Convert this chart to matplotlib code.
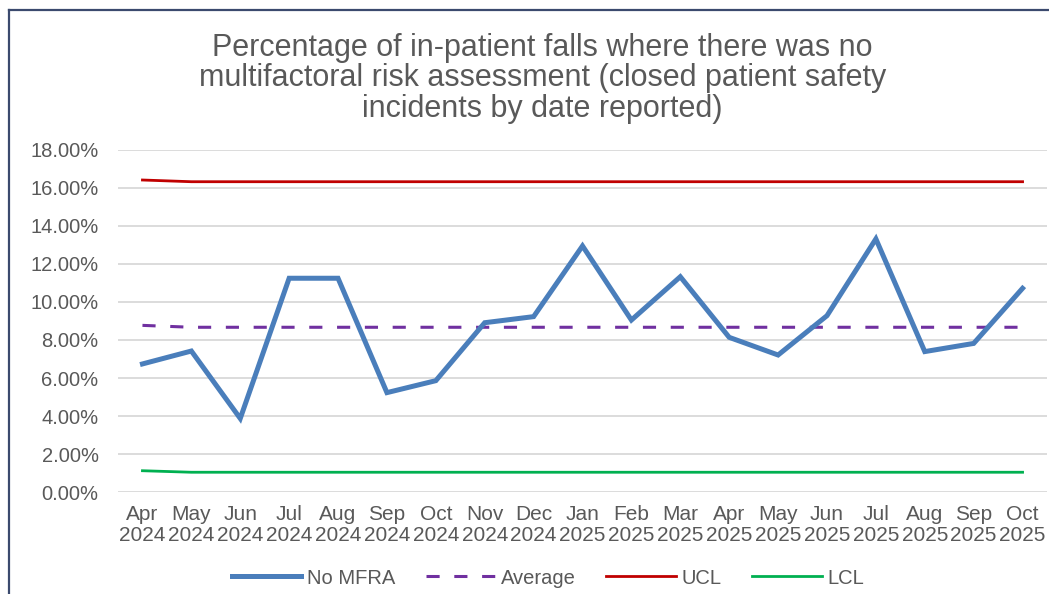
import matplotlib
matplotlib.use("Agg")
import matplotlib.pyplot as plt
from matplotlib.lines import Line2D
from matplotlib.ticker import FuncFormatter

months = ["Apr\n2024", "May\n2024", "Jun\n2024", "Jul\n2024", "Aug\n2024", "Sep\n2024",
          "Oct\n2024", "Nov\n2024", "Dec\n2024", "Jan\n2025", "Feb\n2025", "Mar\n2025",
          "Apr\n2025", "May\n2025", "Jun\n2025", "Jul\n2025", "Aug\n2025", "Sep\n2025",
          "Oct\n2025"]

# percentages
no_mfra = [6.74, 7.42, 3.87, 11.25, 11.25, 5.23, 5.86, 8.91, 9.23, 12.95,
           9.05, 11.33, 8.14, 7.21, 9.28, 13.32, 7.39, 7.82, 10.72]
average = [8.77] + [8.67] * 18
ucl = [16.42] + [16.33] * 18
lcl = [1.12] + [1.04] * 18

yticks = [0, 2, 4, 6, 8, 10, 12, 14, 16, 18]

plt.rcParams['font.family'] = ['Liberation Sans', 'DejaVu Sans']
grey = '#595959'

fig = plt.figure(figsize=(10.49, 5.94), dpi=100)
ax = fig.add_axes([0.1125, 0.1717, 0.8856, 0.5758])

x = list(range(len(months)))
ax.plot(x, no_mfra, color='#4a7ebb', lw=3.6, solid_joinstyle='miter', label='No MFRA', zorder=4)
ax.plot(x, average, color='#7030a0', lw=2.2, dashes=(4.3, 4.8), label='Average', zorder=3)
ax.plot(x, ucl, color='#c00000', lw=2.0, label='UCL', zorder=3)
ax.plot(x, lcl, color='#00b050', lw=2.0, label='LCL', zorder=3)

ax.set_xlim(-0.5, len(months) - 0.5)
ax.set_ylim(0, 18)
ax.set_yticks(yticks)
ax.yaxis.set_major_formatter(FuncFormatter(lambda v, p: '%.2f%%' % v))
ax.set_xticks(x)
ax.set_xticklabels(months, linespacing=1.12)
ax.grid(axis='y', color='#d9d9d9', lw=1.3)
ax.set_axisbelow(True)
for s in ax.spines.values():
    s.set_visible(False)
ax.tick_params(axis='y', length=0, pad=14, labelsize=14.5, labelcolor=grey)
ax.tick_params(axis='x', length=0, pad=9.5, labelsize=15, labelcolor=grey)

fig.text(0.517, 0.868, "Percentage of in-patient falls where there was no\n"
         "multifactoral risk assessment (closed patient safety\n"
         "incidents by date reported)", ha='center', va='center',
         fontsize=22, color=grey, linespacing=1.03)

fig.legend(loc='center', bbox_to_anchor=(548 / 1049, 1 - 578 / 594), ncol=4,
           frameon=False, fontsize=14.5, labelcolor=grey, handlelength=3.45,
           handletextpad=0.3, columnspacing=1.5)

# outer frame (left and top edges visible)
frame = '#3b4a6e'
fig.add_artist(Line2D([9 / 1049, 9 / 1049], [0, 1 - 10 / 594], color=frame, lw=1.6,
                      transform=fig.transFigure))
fig.add_artist(Line2D([9 / 1049, 1], [1 - 10 / 594, 1 - 10 / 594], color=frame, lw=1.6,
                      transform=fig.transFigure))

fig.savefig('out.png', dpi=100)
